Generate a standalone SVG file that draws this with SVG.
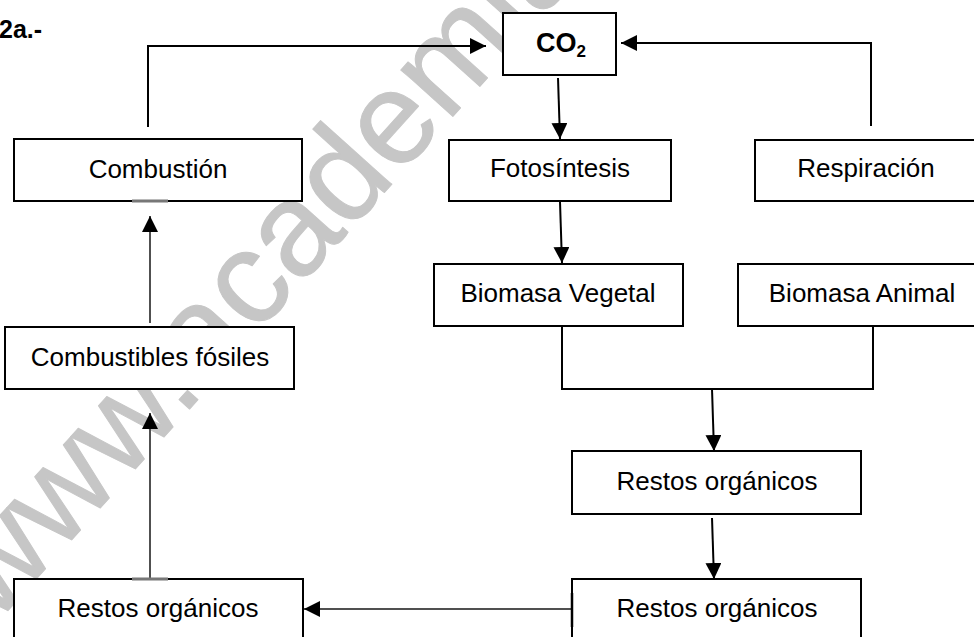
<svg xmlns="http://www.w3.org/2000/svg" width="974" height="637" viewBox="0 0 974 637">
<defs>
<style>
.box{fill:#fff;stroke:#000;stroke-width:2}
.lbl{font-family:"Liberation Sans",Arial,sans-serif;font-size:26px;fill:#000;text-anchor:middle}
.c{fill:none;stroke:#000;stroke-width:2}
.g{fill:none;stroke:#505050;stroke-width:2}
.wm{font-family:"Liberation Sans",Arial,sans-serif;font-size:132px;fill:#c6c6c6;stroke:#c6c6c6;stroke-width:1;stroke-linejoin:round}
</style>
<marker id="ah" viewBox="0 0 16 16" refX="16" refY="8" markerWidth="16" markerHeight="16" markerUnits="userSpaceOnUse" orient="auto">
<path d="M0,0 L16,8 L0,16 Z" fill="#000"/>
</marker>
</defs>
<rect width="974" height="637" fill="#fff"/>
<text class="wm" transform="translate(-5,625) rotate(-48)">www.academia</text>
<text x="-1" y="38" style="font-family:'Liberation Sans',Arial,sans-serif;font-size:25px;font-weight:bold">2a.-</text>
<g id="connectors">
<path class="c" d="M148,127 V46 H486" marker-end="url(#ah)"/>
<path class="c" d="M871,126 V43 H621" marker-end="url(#ah)"/>
<path class="c" d="M558,78 L560,139" marker-end="url(#ah)"/>
<path class="c" d="M560,202 L562,263" marker-end="url(#ah)"/>
<path class="c" d="M562,327 V389 H873 V326"/>
<path class="c" d="M712,389 L714,451" marker-end="url(#ah)"/>
<path class="c" d="M712,518 L714,579" marker-end="url(#ah)"/>
<path class="g" d="M572,609 H304" marker-end="url(#ah)"/>
<path class="g" d="M150,579 V413" marker-end="url(#ah)"/>
<path class="g" d="M150,323 V216" marker-end="url(#ah)"/>
</g>
<g id="co2"><rect class="box" x="503" y="13" width="113" height="62"/><text x="536" y="52" style="font-family:'Liberation Sans',Arial,sans-serif;font-size:27px;font-weight:bold">CO<tspan font-size="17" dy="5">2</tspan></text></g>
<g id="combustion"><rect class="box" x="14" y="139" width="288" height="62"/><text class="lbl" x="158" y="178">Combustión</text></g>
<g id="fotosintesis"><rect class="box" x="449" y="140" width="222" height="61"/><text class="lbl" x="560" y="177">Fotosíntesis</text></g>
<g id="respiracion"><rect class="box" x="755" y="140" width="235" height="61"/><text class="lbl" x="866" y="177">Respiración</text></g>
<g id="biomasa-vegetal"><rect class="box" x="434" y="264" width="249" height="62"/><text class="lbl" x="558" y="302">Biomasa Vegetal</text></g>
<g id="biomasa-animal"><rect class="box" x="738" y="264" width="250" height="62"/><text class="lbl" x="862" y="302">Biomasa Animal</text></g>
<g id="combustibles"><rect class="box" x="5" y="327" width="289" height="62"/><text class="lbl" x="150" y="366">Combustibles fósiles</text></g>
<g id="restos-medio"><rect class="box" x="572" y="451" width="289" height="63"/><text class="lbl" x="717" y="490">Restos orgánicos</text></g>
<g id="restos-derecha"><rect class="box" x="572" y="579" width="289" height="70"/><text class="lbl" x="717" y="617">Restos orgánicos</text></g>
<g id="restos-izquierda"><rect class="box" x="14" y="579" width="289" height="70"/><text class="lbl" x="158" y="617">Restos orgánicos</text></g>
<g id="edge-marks">
<path d="M132,201 H168 M132,579 H168" stroke="#777" stroke-width="3"/>
<path d="M572,593 V627" stroke="#000" stroke-width="2.5"/>
</g>
</svg>
